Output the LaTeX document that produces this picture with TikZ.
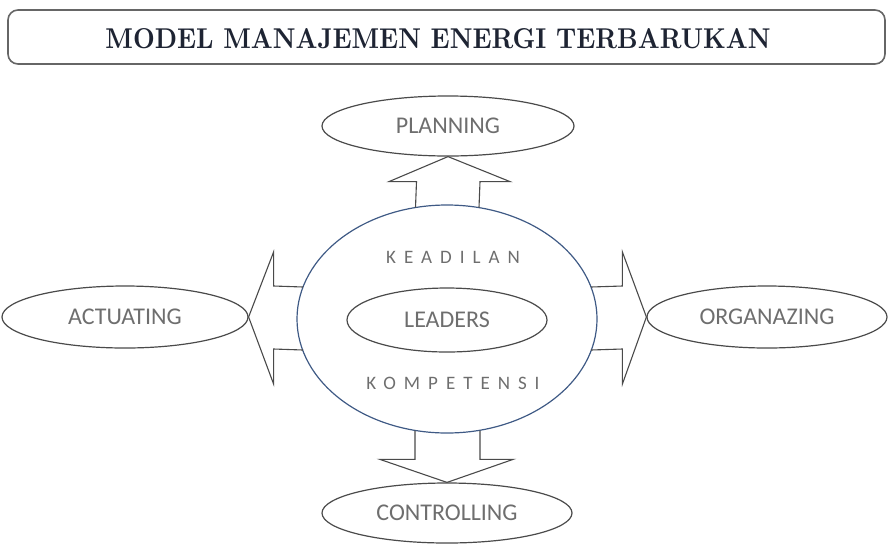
\documentclass[tikz,border=0pt]{standalone}
\usepackage{fontspec}
\usepackage{graphicx}
\setmainfont{Latin Modern Roman}
\newfontfamily\labfont{Carlito}
\newfontfamily\spacedfont[LetterSpace=42]{Carlito}
\usetikzlibrary{shapes.geometric,calc}
\definecolor{labgray}{HTML}{6E6E6E}
\definecolor{lineg}{HTML}{4A4A4A}
\definecolor{bigblue}{HTML}{3F5A85}
\definecolor{titlecol}{HTML}{1E2433}
\tikzset{
  oval/.style={ellipse,draw=lineg,line width=1.2pt,inner sep=0pt,
    font=\labfont\fontsize{24}{28}\selectfont,text=labgray},
  blockarrow/.style={draw=lineg,line width=1.1pt,line join=miter},
  spaced/.style={font=\spacedfont\fontsize{19}{22}\selectfont,text=labgray,inner sep=0pt},
}
\begin{document}
\begin{tikzpicture}[x=1pt,y=-1pt]
\useasboundingbox (0,0) rectangle (890,547);
% title
\node[draw=gray!80!black,line width=1.6pt,rounded corners=10pt,minimum width=877pt,minimum height=54pt,inner sep=0pt] (titlebox) at (446.5,37) {};
\node[text=titlecol] (title) at (438,39) {\resizebox{665pt}{20pt}{\bfseries MODEL MANAJEMEN ENERGI TERBARUKAN}};
% ellipses
\node[oval,minimum width=300pt,minimum height=228pt,draw=bigblue] (center) at (447,319) {};
\node[oval,minimum width=200pt,minimum height=64pt] (leaders) at (447,320) {LEADERS};
\node[spaced] (keadilan) at (453,257) {KEADILAN};
\node[spaced] (kompetensi) at (453,383) {KOMPETENSI};
\node[oval,minimum width=252pt,minimum height=60pt] (plan) at (448,126) {PLANNING};
\node[oval,minimum width=246pt,minimum height=62pt] (act) at (125,317) {ACTUATING};
\node[oval,minimum width=240pt,minimum height=62pt] (org) at (767,317) {ORGANAZING};
\node[oval,minimum width=250pt,minimum height=60pt] (ctrl) at (447,513) {CONTROLLING};
% up arrow
\draw[blockarrow] ($(center.center)+(-31.5,-111.5)$) -- ($(plan.south)+(-31.5,25)$) -- ($(plan.south)+(-59,25)$)
  -- (plan.south) -- ($(plan.south)+(62,25)$) -- ($(plan.south)+(32,25)$) -- ($(center.center)+(32,-111.5)$);
% down arrow
\draw[blockarrow] ($(center.center)+(-32,111.5)$) -- ($(ctrl.north)+(-32,-23)$) -- ($(ctrl.north)+(-67,-23)$)
  -- (ctrl.north) -- ($(ctrl.north)+(66,-23)$) -- ($(ctrl.north)+(33,-23)$) -- ($(center.center)+(33,111.5)$);
% left arrow
\draw[blockarrow] ($(center.center)+(-144,-32)$) -- ($(act.east)+(25,-31)$) -- ($(act.east)+(25,-65)$)
  -- (act.east) -- ($(act.east)+(25,67)$) -- ($(act.east)+(25,32)$) -- ($(center.center)+(-144,31)$);
% right arrow
\draw[blockarrow] ($(center.center)+(144,-32)$) -- ($(org.west)+(-24,-31)$) -- ($(org.west)+(-24,-65)$)
  -- (org.west) -- ($(org.west)+(-24,67)$) -- ($(org.west)+(-24,32)$) -- ($(center.center)+(144,31)$);
\end{tikzpicture}
\end{document}
